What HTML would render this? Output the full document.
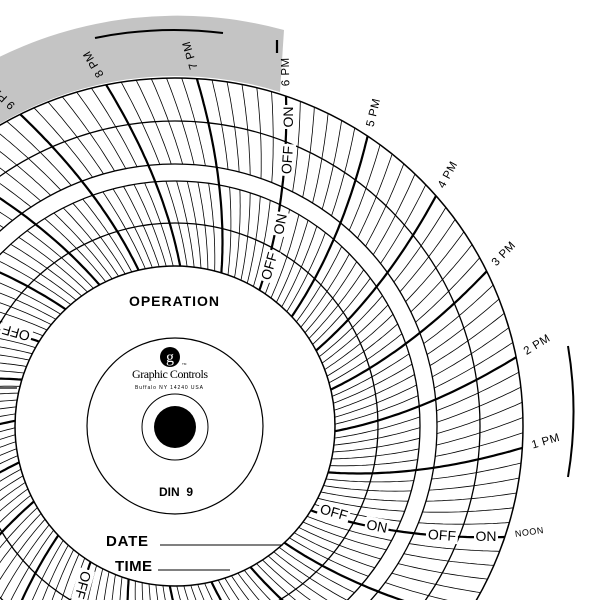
<!DOCTYPE html>
<html><head><meta charset="utf-8"><style>
html,body{margin:0;padding:0;background:#fff;width:600px;height:600px;overflow:hidden}
svg{display:block}
text{font-family:"Liberation Sans",sans-serif;fill:#000}
.hl{font-size:11.5px;letter-spacing:0.5px}
.oo text{font-size:14px;dominant-baseline:central;text-anchor:middle}
.oo rect{fill:#fff}
</style></head><body>
<svg id="s" width="600" height="600" viewBox="0 0 600 600" xmlns="http://www.w3.org/2000/svg">
<path d="M280 92 L284 30 A404 404 0 0 0 -204.6 287.8 L-152 307 A348 348 0 0 1 280 92 Z" fill="#c4c4c4"/>
<g id="lines" fill="none" stroke="#000"></g>
<g fill="none" stroke="#000">
<circle cx="175" cy="426" r="203" stroke-width="1.3"/>
<circle cx="175" cy="426" r="245" stroke-width="1.3"/>
<circle cx="175" cy="426" r="262" stroke-width="1.3"/>
<circle cx="175" cy="426" r="305" stroke-width="1.3"/>
<circle cx="175" cy="426" r="348" stroke-width="1.5"/>
<path d="M95 38 A396 396 0 0 1 223 33" stroke-width="2"/>
<path d="M568 346 A393 393 0 0 1 568 477" stroke-width="2"/>
<line x1="277" y1="53" x2="277" y2="40" stroke-width="2.2"/>
<line x1="0" y1="388" x2="17" y2="388" stroke-width="1.2"/>
</g>
<circle cx="175" cy="426" r="160" fill="#fff" stroke="#000" stroke-width="1.5"/>
<circle cx="175" cy="426" r="88" fill="none" stroke="#000" stroke-width="1.2"/>
<circle cx="175" cy="427" r="33" fill="none" stroke="#000" stroke-width="1"/>
<circle cx="175" cy="427" r="21" fill="#000"/>
<circle cx="170" cy="357" r="10" fill="#000"/>
<text x="170" y="362" text-anchor="middle" style="font-family:'Liberation Serif',serif;font-size:16px;fill:#fff">g</text>
<text x="182" y="365" style="font-size:3px">TM</text>
<text x="170" y="378" text-anchor="middle" textLength="76" style="font-family:'Liberation Serif',serif;font-size:12px">Graphic Controls</text>
<text x="169" y="389" text-anchor="middle" textLength="68" style="font-size:5px">Buffalo NY 14240 USA</text>
<text x="174" y="306" text-anchor="middle" textLength="90" style="font-size:14px;font-weight:bold">OPERATION</text>
<text x="176" y="496" text-anchor="middle" style="font-size:12px;font-weight:bold" xml:space="preserve">DIN  9</text>
<text x="106" y="546" textLength="42" style="font-size:15px;font-weight:bold">DATE</text>
<text x="115" y="571" textLength="37" style="font-size:15px;font-weight:bold">TIME</text>
<line x1="160" y1="545" x2="283" y2="545" stroke="#000" stroke-width="1"/>
<line x1="158" y1="570" x2="230" y2="570" stroke="#000" stroke-width="1"/>
<g class="hl" style="dominant-baseline:central">
<text transform="translate(532,445.7) rotate(-16.4)">1 PM</text>
<text transform="translate(524.9,352.6) rotate(-31.4)">2 PM</text>
<text transform="translate(494.1,264.5) rotate(-46.4)">3 PM</text>
<text transform="translate(441.3,187.6) rotate(-61.4)">4 PM</text>
<text transform="translate(370.5,126.7) rotate(-76.4)">5 PM</text>
<text transform="translate(286.4,86.2) rotate(-91.4)">6 PM</text>
<text transform="translate(194.7,69) rotate(-106.4)">7 PM</text>
<text transform="translate(101.5,76.2) rotate(-121.4)">8 PM</text>
<text transform="translate(13.5,106.9) rotate(-136.4)">9 PM</text>
<text transform="translate(515,534) rotate(-8)" style="font-size:9px">NOON</text>
</g>
<g class="oo">
<g transform="translate(269,266) rotate(-74)"><rect x="-16" y="-8" width="32" height="16"/><text>OFF</text></g>
<g transform="translate(280,224) rotate(-79)"><rect x="-12" y="-8" width="24" height="16"/><text>ON</text></g>
<g transform="translate(287,160) rotate(-86)"><rect x="-16" y="-8" width="32" height="16"/><text>OFF</text></g>
<g transform="translate(288,117) rotate(-90)"><rect x="-12" y="-8" width="24" height="16"/><text>ON</text></g>
<g transform="translate(334,512) rotate(16)"><rect x="-16" y="-8" width="32" height="16"/><text>OFF</text></g>
<g transform="translate(377,526) rotate(11)"><rect x="-12" y="-8" width="24" height="16"/><text>ON</text></g>
<g transform="translate(442,535) rotate(4)"><rect x="-16" y="-8" width="32" height="16"/><text>OFF</text></g>
<g transform="translate(486,536) rotate(0)"><rect x="-12" y="-8" width="24" height="16"/><text>ON</text></g>
<g transform="translate(16,333) rotate(196)"><rect x="-16" y="-8" width="32" height="16"/><text>OFF</text></g>
<g transform="translate(83,585) rotate(106)"><rect x="-16" y="-8" width="32" height="16"/><text>OFF</text></g>
</g>
</svg>
<script>
(function(){
var cx=175,cy=426,g=document.getElementById('lines'),ns='http://www.w3.org/2000/svg';
function th(t0,r){var d=348-r;return t0+0.06*d+5.57e-5*d*d;}
function pts(t0,r1,r2){var n=Math.ceil((r2-r1)/4),s='';for(var i=0;i<=n;i++){var r=r1+(r2-r1)*i/n,a=th(t0,r)*Math.PI/180;s+=(i?'L':'M')+(cx+r*Math.cos(a)).toFixed(1)+' '+(cy+r*Math.sin(a)).toFixed(1);}return s;}
var thin='',thick='';
for(var k=0;k<144;k++){var t0=18.6-2.5*k;if(k%6==0){thick+=pts(t0,160,348);}else{thin+=pts(t0,160,245)+pts(t0,262,348);}}
var p1=document.createElementNS(ns,'path');p1.setAttribute('d',thin);p1.setAttribute('stroke-width','0.8');g.appendChild(p1);
var p2=document.createElementNS(ns,'path');p2.setAttribute('d',thick);p2.setAttribute('stroke-width','2.2');g.appendChild(p2);
})();
</script>
</body></html>
